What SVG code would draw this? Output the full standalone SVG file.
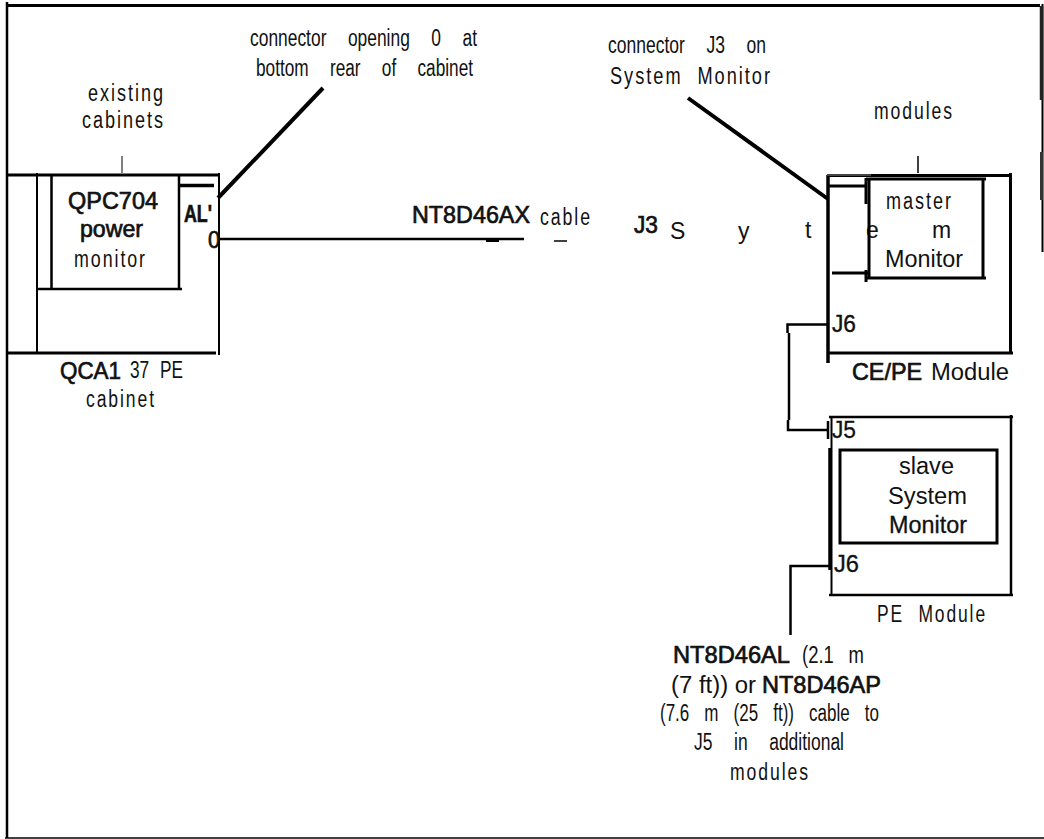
<svg xmlns="http://www.w3.org/2000/svg" width="1044" height="839" viewBox="0 0 1044 839">
<style>
text{font-family:"Liberation Sans",Arial,sans-serif;fill:#111;font-size:23px}
.s{font-size:23px}
.b{font-size:24px;stroke:#111;stroke-width:.7px}
.w{letter-spacing:2.500px}
line,path,rect{stroke:#000;fill:none;stroke-width:2.500}
</style>
<rect width="1044" height="839" fill="#fff" style="stroke:none"/>
<g id="frame">
<line x1="7" y1="5.500" x2="1040" y2="5.500" style="stroke-width:3"/>
<line x1="7" y1="2" x2="7" y2="838" style="stroke-width:2.500"/>
<line x1="5" y1="838" x2="1044" y2="838" style="stroke-width:1.500"/>
<line x1="1042.500" y1="4" x2="1042.500" y2="252" style="stroke-width:2"/>
<line x1="1041.500" y1="6" x2="1041.500" y2="100" style="stroke-width:3.500;stroke:#222"/>
<line x1="1041.500" y1="152" x2="1041.500" y2="200" style="stroke-width:3;stroke:#333"/>
</g>
<g id="connectors">
<line x1="218" y1="198" x2="323" y2="88" style="stroke-width:4"/>
<line x1="220" y1="239" x2="524" y2="239"/>
<line x1="486" y1="241" x2="499" y2="241" style="stroke-width:2"/>
<line x1="554" y1="241" x2="567" y2="241" style="stroke-width:1.500"/>
<line x1="688" y1="98" x2="828" y2="199" style="stroke-width:4"/>
<path d="M828 324.500H787.500V333M789 333V420"/>
<path d="M788 420V430H827"/>
<path d="M829 566H790.500V635"/>
<line x1="122" y1="156" x2="122" y2="173" style="stroke-width:1"/>
<line x1="918" y1="156" x2="918" y2="173" style="stroke-width:1.500"/>
</g>
<g id="cabinet">
<line x1="7" y1="175" x2="220" y2="175" style="stroke-width:3"/>
<line x1="7" y1="353" x2="216" y2="353" style="stroke-width:3"/>
<line x1="37" y1="173" x2="37" y2="353" style="stroke-width:2"/>
<line x1="219" y1="173" x2="219" y2="355" style="stroke-width:2"/>
<text class="w" x="88" y="101" textLength="77" lengthAdjust="spacingAndGlyphs">existing</text>
<text class="w" x="82" y="128" textLength="83" lengthAdjust="spacingAndGlyphs">cabinets</text>
<text class="b" x="60" y="379" textLength="61" lengthAdjust="spacingAndGlyphs">QCA1</text>
<text x="130" y="378" word-spacing="8" textLength="53" lengthAdjust="spacingAndGlyphs">37 PE</text>
<text class="w" x="86" y="407" textLength="70" lengthAdjust="spacingAndGlyphs">cabinet</text>
<text class="b" x="184" y="222" textLength="28" lengthAdjust="spacingAndGlyphs" style="font-weight:bold">AL'</text>
<text class="b" x="208" y="248" textLength="12" lengthAdjust="spacingAndGlyphs">0</text>
<line x1="180" y1="185.500" x2="214" y2="185.500" style="stroke-width:3.500"/>
</g>
<g id="power-monitor">
<path d="M38 289H182M51.500 176V289M179 176V289"/>
<text class="b" x="68" y="209" textLength="90" lengthAdjust="spacingAndGlyphs">QPC704</text>
<text class="b" x="80" y="237" textLength="63" lengthAdjust="spacingAndGlyphs">power</text>
<text class="w" x="74" y="267" textLength="73" lengthAdjust="spacingAndGlyphs">monitor</text>
</g>
<g id="labels">
<text x="250" y="45.500" word-spacing="22" textLength="227" lengthAdjust="spacingAndGlyphs">connector opening 0 at</text>
<text x="256" y="76" word-spacing="22" textLength="217" lengthAdjust="spacingAndGlyphs">bottom rear of cabinet</text>
<text x="608" y="53" word-spacing="22" textLength="158" lengthAdjust="spacingAndGlyphs">connector J3 on</text>
<text class="w" x="610" y="84" word-spacing="10" textLength="162" lengthAdjust="spacingAndGlyphs">System Monitor</text>
<text class="w" x="874" y="119" textLength="80" lengthAdjust="spacingAndGlyphs">modules</text>
<text class="b" x="412" y="223" textLength="118" lengthAdjust="spacingAndGlyphs">NT8D46AX</text>
<text class="w" x="540" y="225" textLength="52" lengthAdjust="spacingAndGlyphs">cable</text>
<text class="b" x="634" y="233" textLength="24" lengthAdjust="spacingAndGlyphs">J3</text>
</g>
<g id="ce-pe-module">
<path d="M827 175.500H1011M1010.500 173V354M829 353H1013" style="stroke-width:3"/>
<path d="M828 175V363" style="stroke-width:3.500"/>
<line x1="827" y1="175" x2="871" y2="175" style="stroke-width:2;stroke:#444"/>
<line x1="829" y1="186" x2="866" y2="186" style="stroke-width:3"/>
<text class="s" x="805" y="238">t</text>
<text class="s" x="866" y="238">e</text>
<text class="s" x="932" y="238">m</text>
<text class="s" x="832" y="332" textLength="24" lengthAdjust="spacingAndGlyphs" style="stroke:#111;stroke-width:.4px">J6</text>
<text class="b" x="852" y="380" textLength="70" lengthAdjust="spacingAndGlyphs">CE/PE</text>
<text class="s" x="931" y="380" textLength="78" lengthAdjust="spacingAndGlyphs">Module</text>
</g>
<g id="master-monitor">
<path d="M866 179H986M983 179V279M866 278H986M869 179V279" style="stroke-width:3"/>
<line x1="866" y1="178" x2="866" y2="204" style="stroke-width:3"/>
<line x1="832" y1="273" x2="868" y2="273" style="stroke-width:3"/>
<line x1="866" y1="270" x2="866" y2="282" style="stroke-width:3"/>
<text class="w" x="886" y="209" textLength="67" lengthAdjust="spacingAndGlyphs">master</text>
<text class="s" x="885" y="267" textLength="78" lengthAdjust="spacingAndGlyphs">Monitor</text>
</g>
<g id="s-label">
<text class="s" x="670" y="239">S</text>
<text class="s" x="738" y="239">y</text>
</g>
<g id="pe-module">
<path d="M829 417H1013M1011 415V596M829 595H1013"/>
<path d="M831.500 417V596" style="stroke-width:2"/>
<line x1="830" y1="448" x2="830" y2="570" style="stroke-width:3.500"/>
<line x1="828" y1="421" x2="828" y2="439"/>
<text class="s" x="832" y="438" textLength="24" lengthAdjust="spacingAndGlyphs" style="stroke:#111;stroke-width:.3px">J5</text>
<text class="s" x="834" y="572" textLength="25" lengthAdjust="spacingAndGlyphs" style="stroke:#111;stroke-width:.3px">J6</text>
<text class="w" x="877" y="622" word-spacing="10" textLength="110" lengthAdjust="spacingAndGlyphs">PE Module</text>
</g>
<g id="slave-monitor">
<rect x="840" y="450" width="157" height="93" style="stroke-width:3"/>
<text class="s" x="899" y="474" textLength="55" lengthAdjust="spacingAndGlyphs">slave</text>
<text class="s" x="888" y="504" textLength="79" lengthAdjust="spacingAndGlyphs">System</text>
<text class="s" x="889" y="533" textLength="78" lengthAdjust="spacingAndGlyphs" style="stroke:#111;stroke-width:.3px">Monitor</text>
</g>
<g id="cable-note">
<text class="b" x="673" y="663" textLength="117" lengthAdjust="spacingAndGlyphs">NT8D46AL</text>
<text x="802" y="663" word-spacing="12" textLength="62" lengthAdjust="spacingAndGlyphs">(2.1 m</text>
<text class="s" x="671" y="693" textLength="85" lengthAdjust="spacingAndGlyphs">(7 ft)) or</text>
<text class="b" x="762" y="693" textLength="119" lengthAdjust="spacingAndGlyphs">NT8D46AP</text>
<text x="660" y="721" word-spacing="14" textLength="219" lengthAdjust="spacingAndGlyphs">(7.6 m (25 ft)) cable to</text>
<text x="694" y="750" word-spacing="22" textLength="150" lengthAdjust="spacingAndGlyphs">J5 in additional</text>
<text class="w" x="730" y="780" textLength="80" lengthAdjust="spacingAndGlyphs">modules</text>
</g>
</svg>
